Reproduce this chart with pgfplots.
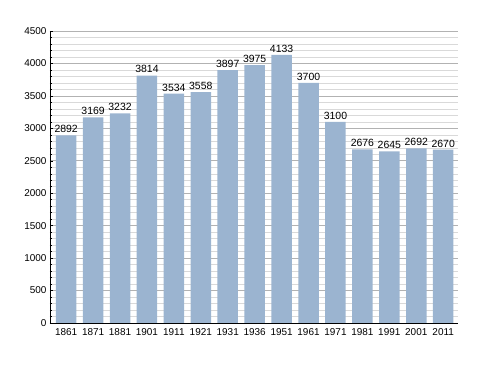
\documentclass[border=0pt]{standalone}
\usepackage{pgfplots}
\pgfplotsset{compat=1.18}
\usepackage{fontspec}
\setmainfont{Liberation Sans}
\definecolor{barblue}{HTML}{9BB4D0}
\begin{document}
\begin{tikzpicture}
\path[use as bounding box] (-50bp,-50bp) rectangle (438bp,323bp);
\begin{axis}[
  at={(0,0)}, anchor=south west,
  scale only axis,
  width=408bp, height=292bp,
  ymin=0, ymax=4500,
  xmin=-0.6, xmax=14.55,
  axis x line*=bottom, axis y line*=left,
  ytick={0,500,...,4500},
  minor y tick num=4,
  ymajorgrids, yminorgrids,
  major grid style={gray!60, line width=0.6pt},
  minor grid style={gray!30, line width=0.5pt},
  xtick={0,...,14},
  xticklabels={1861,1871,1881,1901,1911,1921,1931,1936,1951,1961,1971,1981,1991,2001,2011},
  x tick style={draw=none},
  y tick style={black, line width=0.5pt},
  major tick length=3bp, minor tick length=2bp,
  tick label style={font=\fontsize{10}{12}\selectfont},
  /pgf/number format/assume math mode=true,
  /pgf/number format/1000 sep={},
  axis line style={black, line width=0.8pt},
  xticklabel style={yshift=1bp},
  nodes near coords,
  nodes near coords style={font=\fontsize{10.5}{12}\selectfont, /pgf/number format/1000 sep={}, /pgf/number format/assume math mode=true, yshift=-1bp},
  ybar, bar width=20.5bp,
]
\addplot[fill=barblue, draw=none] coordinates {
(0,2892) (1,3169) (2,3232) (3,3814) (4,3534) (5,3558) (6,3897) (7,3975) (8,4133) (9,3700) (10,3100) (11,2676) (12,2645) (13,2692) (14,2670)};
\end{axis}
\end{tikzpicture}
\end{document}
